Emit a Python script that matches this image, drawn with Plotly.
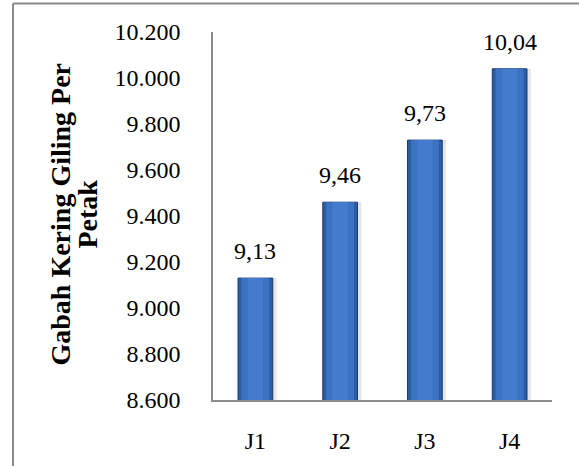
import plotly.graph_objects as go

categories = ["J1", "J2", "J3", "J4"]
values = [9.13, 9.46, 9.73, 10.04]
value_labels = ["9,13", "9,46", "9,73", "10,04"]
tick_vals = [8.6, 8.8, 9.0, 9.2, 9.4, 9.6, 9.8, 10.0, 10.2]
tick_text = ["8.600", "8.800", "9.000", "9.200", "9.400", "9.600", "9.800", "10.000", "10.200"]
y_title_lines = ["Gabah Kering Giling Per", "Petak"]

FONT = "Liberation Serif, Times New Roman, serif"
W, H = 579, 466
L, R, T, B = 213, 27, 32, 61
PW, PH = W - L - R, H - T - B

def px(x):
    return (x - L) / PW

def py(y):
    return (H - B - y) / PH

fig = go.Figure()
# shadow
fig.add_trace(go.Bar(x=categories, y=values, width=0.44, offset=-0.19,
                     marker=dict(color="rgba(0,0,0,0.10)", line=dict(width=0)),
                     hoverinfo="skip", showlegend=False))
# base bar (dark edges)
fig.add_trace(go.Bar(x=categories, y=values, width=0.41,
                     marker=dict(color="#2c5da2", line=dict(color="#1d3d70", width=1)),
                     showlegend=False))
# lighter body
fig.add_trace(go.Bar(x=categories, y=values, width=0.33,
                     marker=dict(color="#3b72c2", line=dict(width=0)),
                     hoverinfo="skip", showlegend=False))
# highlight
fig.add_trace(go.Bar(x=categories, y=values, width=0.18,
                     marker=dict(color="#437ccc", line=dict(width=0)),
                     hoverinfo="skip", showlegend=False))

for c, v, t in zip(categories, values, value_labels):
    fig.add_annotation(x=c, y=v, text=t, showarrow=False, yanchor="bottom",
                       yshift=12, font=dict(family=FONT, size=24, color="#000"))

for xpos, line in zip([61, 88], y_title_lines):
    fig.add_annotation(xref="paper", yref="paper", x=px(xpos), y=py(217), text=line,
                       textangle=-90, showarrow=False, xanchor="center", yanchor="middle",
                       font=dict(family=FONT, size=28, color="#000", weight="bold"))

fig.add_shape(type="line", xref="paper", yref="paper", x0=px(13), x1=px(13),
              y0=py(3), y1=py(480), line=dict(color="#8a8a8a", width=2))
fig.add_shape(type="line", xref="paper", yref="paper", x0=px(13), x1=px(600),
              y0=py(3), y1=py(3), line=dict(color="#8a8a8a", width=2))

fig.update_layout(
    width=W, height=H, margin=dict(l=L, r=R, t=T, b=B),
    paper_bgcolor="white", plot_bgcolor="white",
    barmode="overlay", bargap=0.59,
    font=dict(family=FONT, size=24, color="#000"),
    xaxis=dict(showline=True, linecolor="#8c8c8c", linewidth=1.5, ticks="",
               showgrid=False, ticklabelstandoff=18,
               tickfont=dict(family=FONT, size=24)),
    yaxis=dict(range=[8.6, 10.2], tickvals=tick_vals, ticktext=tick_text,
               showline=True, linecolor="#8c8c8c", linewidth=1.5, ticks="",
               showgrid=False, zeroline=False, ticklabelstandoff=26,
               tickfont=dict(family=FONT, size=24)),
)

fig.write_html("out.html")
